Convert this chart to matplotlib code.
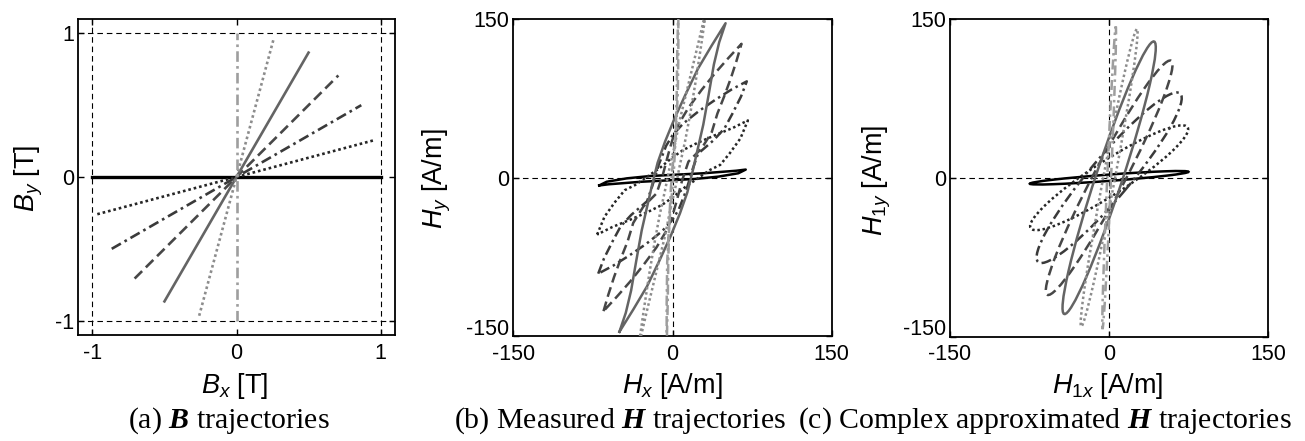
import matplotlib
matplotlib.use('Agg')
import matplotlib.pyplot as plt
from matplotlib.patches import Ellipse

plt.rcParams['font.family'] = 'Liberation Sans'
plt.rcParams['axes.unicode_minus'] = False
plt.rcParams['mathtext.fontset'] = 'custom'
plt.rcParams['mathtext.rm'] = 'Liberation Sans'
plt.rcParams['mathtext.it'] = 'Liberation Sans:italic'
plt.rcParams['mathtext.bf'] = 'Liberation Serif:italic:bold'

# B directions 0, 15, ..., 90 deg: end points of the alternating B trajectories [T]
bx_end = [1.0, 0.966, 0.866, 0.707, 0.5, 0.259, 0.0]
by_end = [0.0, 0.259, 0.5, 0.707, 0.866, 0.966, 1.0]

# measured H loops [A/m] (closed)
hx_m00 = [-69, -62, -43, -21, -2, 29, 60, 69, 62, 43, 21, 2, -29, -60, -69]
hy_m00 = [-7.5, -4, -0.8, 1.4, 2.4, 4, 6.4, 7.5, 4, 0.8, -1.4, -2.4, -4, -6.4, -7.5]
hx_m15 = [-71, -64, -54, -45, -35, -25, -12, 0, 10, 24, 40, 57, 71,
          64, 54, 45, 35, 25, 12, 0, -10, -24, -40, -57, -71]
hy_m15 = [-54, -37, -23, -12, -7, 0, 9, 19, 26, 33, 40, 47, 54,
          37, 23, 12, 7, 0, -9, -19, -26, -33, -40, -47, -54]
hx_m30 = [-70, -64.5, -56.5, -49, -39, -24, -19, -13, -6, 0, 10, 25, 41, 56, 70,
          64.5, 56.5, 49, 39, 24, 19, 13, 6, 0, -10, -25, -41, -56, -70]
hy_m30 = [-91, -76.5, -60.5, -46.5, -35.5, -22.5, -8, 12, 30, 40, 51, 63, 74, 83.5, 91,
          76.5, 60.5, 46.5, 35.5, 22.5, 8, -12, -30, -40, -51, -63, -74, -83.5, -91]
hx_m45 = [-65, -60.5, -55, -48.6, -42.3, -37, -27.5, -15, -9, -4, 0, 5.5, 15, 27.5, 40, 52.6, 65,
          60.5, 55, 48.6, 42.3, 37, 27.5, 15, 9, 4, 0, -5.5, -15, -27.5, -40, -52.6, -65]
hy_m45 = [-126.5, -111, -94, -76.5, -60.5, -43, -27.6, -15, 3, 22, 36, 50, 66, 83, 98.6, 113, 126.5,
          111, 94, 76.5, 60.5, 43, 27.6, 15, -3, -22, -36, -50, -66, -83, -98.6, -113, -126.5]
hx_m60 = [-50, -44, -39, -34, -29, -24, -19, -14, -7, 2, 12, 24, 37, 50,
          44, 39, 34, 29, 24, 19, 14, 7, -2, -12, -24, -37, -50]
hy_m60 = [-146, -128, -107, -78, -50, -28, -6, 14, 34, 56, 78, 103, 125, 146,
          128, 107, 78, 50, 28, 6, -14, -34, -56, -78, -103, -125, -146]
hx_m75 = [-32, -27, -22, -17, -12, -7, -3, 2, 7, 13, 19, 25, 32,
          27, 22, 17, 12, 7, 3, -2, -7, -13, -19, -25, -32]
hy_m75 = [-160, -125, -92, -62, -35, -12, 8, 30, 55, 80, 105, 130, 160,
          125, 92, 62, 35, 12, -8, -30, -55, -80, -105, -130, -160]
hx_m90 = [-5.5, -5.5, -5, -3.5, -2, 0, 1.5, 3, 4, 4.5, 5.5,
          5.5, 5, 3.5, 2, 0, -1.5, -3, -4, -4.5, -5.5]
hy_m90 = [-160, -120, -80, -50, -30, -10, 10, 40, 80, 120, 160,
          120, 80, 50, 30, 10, -10, -40, -80, -120, -160]
meas_x = [hx_m00, hx_m15, hx_m30, hx_m45, hx_m60, hx_m75, hx_m90]
meas_y = [hy_m00, hy_m15, hy_m30, hy_m45, hy_m60, hy_m75, hy_m90]

# complex (first harmonic) approximation: ellipses, semi-axes [A/m] and tilt [deg]
h1_major = [75, 88, 104, 125, 135.5, 143, 143]
h1_minor = [3, 16, 19, 14.5, 12.5, 5.5, 1.8]
h1_tilt = [4.3, 32.8, 50, 62.2, 71.8, 79.4, 87.5]

line_styles = ['-', (0, (1, 1.1)), (0, (4, 1.6, 1, 1.6)), (0, (4, 2)), '-',
               (0, (1, 1.1)), (0, (4, 1.6, 1, 1.6))]
line_colors = ['#000000', '#262626', '#3a3a3a', '#474747', '#646464', '#8c8c8c', '#9e9e9e']

fig = plt.figure(figsize=(13.05, 4.41), dpi=100)
W, H = 1305.0, 441.0
ax_a = fig.add_axes([78 / W, 1 - 335 / H, 317 / W, 316 / H])
ax_b = fig.add_axes([513.3 / W, 1 - 336 / H, 318.4 / W, 317 / H])
ax_c = fig.add_axes([950 / W, 1 - 336.5 / H, 318.3 / W, 317.5 / H])


def style_axes(ax, lim, ticks, lift_low=False):
    ax.set_xlim(-lim, lim)
    ax.set_ylim(-lim, lim)
    ax.set_xticks(ticks)
    ax.set_yticks(ticks)
    ax.tick_params(direction='in', top=True, right=True, length=4, width=1, labelsize=15.5)
    ax.tick_params(axis='x', pad=5.5)
    ax.tick_params(axis='y', pad=3)
    for s in ax.spines.values():
        s.set_linewidth(1.3)
    if lift_low:
        # lowest y tick label sits on top of the first x tick label; nudge it up
        ax.set_yticklabels([''] + [str(t) for t in ticks[1:]])
        ax.annotate(str(ticks[0]), xy=(0, 0), xycoords='axes fraction',
                    xytext=(-3, 5), textcoords='offset points',
                    ha='right', va='center', fontsize=15.5)


ref = dict(color='k', lw=0.8, ls=(0, (5, 3.5)), zorder=1)

# (a) B trajectories
for v in (-1, 1):
    ax_a.axvline(v, **ref)
    ax_a.axhline(v, **ref)
for i in range(len(bx_end)):
    lw = 2.4 if i == 0 else 1.9
    ax_a.plot([-bx_end[i], bx_end[i]], [-by_end[i], by_end[i]], ls=line_styles[i],
              color=line_colors[i], lw=lw, zorder=2 + i)
style_axes(ax_a, 1.1, [-1, 0, 1])

# (b) measured H
ax_b.axvline(0, **ref)
ax_b.axhline(0, **ref)
for i in range(len(meas_x)):
    ax_b.plot(meas_x[i], meas_y[i], ls=line_styles[i], color=line_colors[i],
              lw=1.8, zorder=2 + i)
style_axes(ax_b, 150, [-150, 0, 150], lift_low=True)

# (c) complex approximated H
ax_c.axvline(0, **ref)
ax_c.axhline(0, **ref)
for i in range(len(h1_major)):
    e = Ellipse((0, 0), 2 * h1_major[i], 2 * h1_minor[i], angle=h1_tilt[i], fill=False,
                ls=line_styles[i], ec=line_colors[i], lw=1.8, zorder=2 + i)
    ax_c.add_patch(e)
style_axes(ax_c, 150, [-150, 0, 150], lift_low=True)

# axis labels
lab = dict(fontsize=19.5, ha='center', va='center')
fig.text(235 / W, 1 - 386 / H, r'$B_x$ [T]', **lab)
fig.text(29 / W, 1 - 178 / H, r'$B_y$ [T]', rotation=90, **lab)
fig.text(672 / W, 1 - 386 / H, r'$H_x$ [A/m]', **lab)
fig.text(437 / W, 1 - 179 / H, r'$H_y$ [A/m]', rotation=90, **lab)
fig.text(1108 / W, 1 - 386 / H, r'$H_{\mathit{1x}}$ [A/m]', **lab)
fig.text(877 / W, 1 - 180 / H, r'$H_{\mathit{1y}}$ [A/m]', rotation=90, **lab)

# captions
cap = dict(fontsize=21.5, family='Liberation Serif', va='baseline')
fig.text(128 / W, 1 - 428 / H, r'(a) $\mathbf{B}$ trajectories', ha='left', **cap)
fig.text(454 / W, 1 - 428 / H, r'(b) Measured $\mathbf{H}$ trajectories', ha='left', **cap)
fig.text(1292 / W, 1 - 428 / H, r'(c) Complex approximated $\mathbf{H}$ trajectories',
         ha='right', **cap)

fig.savefig('out.png', dpi=100)
